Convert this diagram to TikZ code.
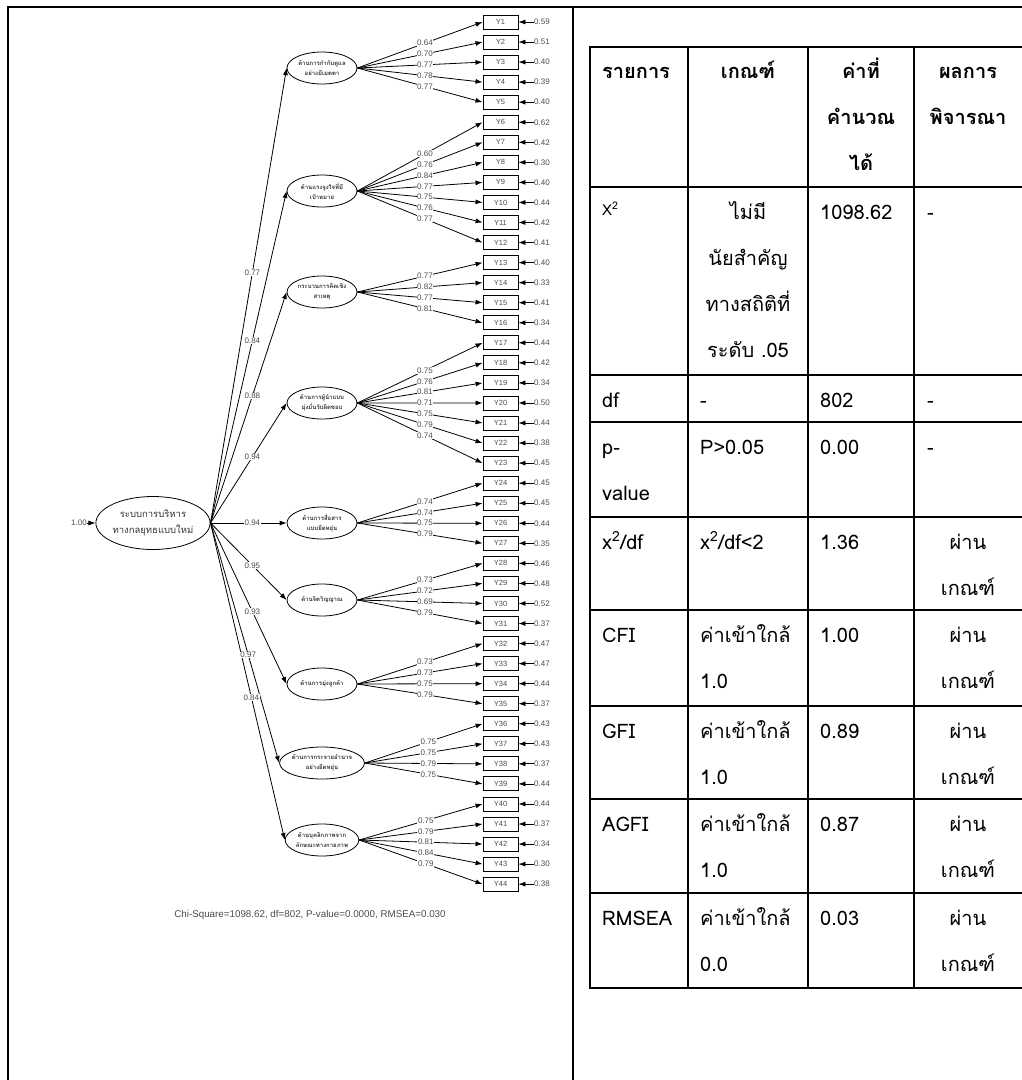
\documentclass[tikz,border=0pt]{standalone}
\usepackage{fontspec}
\setmainfont{Liberation Sans}
\newfontfamily\thai[Script=Thai]{Loma}
\usetikzlibrary{arrows.meta,shapes.geometric}
\begin{document}
\begin{tikzpicture}[x=1pt,y=-1pt,
  arr/.style={line width=0.8pt,-{Latex[length=7pt,width=5pt]}},
  ybox/.style={draw,line width=0.9pt,minimum width=35pt,minimum height=14pt,inner sep=0pt,font=\fontsize{7.5}{8}\selectfont,text=black!70},
  lab/.style={fill=white,inner sep=0.6pt,font=\fontsize{8}{8}\selectfont,text=black!70},
  errlab/.style={inner sep=0pt,font=\fontsize{8}{8}\selectfont,text=black!70},
  fac/.style={ellipse,draw,line width=0.8pt,minimum width=70pt,minimum height=32pt,inner sep=0pt,align=center,font=\thai\bfseries\fontsize{6}{10}\selectfont,text=black!80},
  bigfac/.style={ellipse,draw,line width=0.8pt,minimum width=102pt,minimum height=53pt,inner sep=0pt,align=center,font=\thai\fontsize{9.5}{16}\selectfont,text=black!80},
  frameline/.style={line width=2.2pt},
  tline/.style={line width=2pt},
  tl/.style={font=\thai\fontsize{20}{20}\selectfont,inner sep=0pt,anchor=base west},
  tm/.style={font=\thai\fontsize{20}{20}\selectfont,inner sep=0pt,anchor=base},
  th/.style={font=\thai\bfseries\fontsize{20}{20}\selectfont,inner sep=0pt,anchor=base},
]
\useasboundingbox (0,0) rectangle (1022,1080);
\fill[white] (0,0) rectangle (1022,1080);

% frame
\draw[frameline] (8,1082) -- (8,7) -- (1024,7);
\draw[frameline] (573,7) -- (573,1082);

% big factor
\node[bigfac] (big) at (153,523) {ระบบการบริหาร\\ทางกลยุทธแบบใหม่};
\node[errlab,anchor=east] (e0) at (87,523) {1.00};
\draw[arr] (e0.east) -- (big.west);

% first-order factors
\node[fac] (f1) at (322,68) {ด้านการกำกับดูแล\\อย่างมีเมตตา};
\node[fac] (f2) at (322,191) {ด้านแรงจูงใจที่มี\\เป้าหมาย};
\node[fac] (f3) at (322,292) {กระบวนการคิดเชิง\\สาเหตุ};
\node[fac] (f4) at (322,403) {ด้านการผู้นำแบบ\\มุ่งมั่นรับผิดชอบ};
\node[fac] (f5) at (322,523) {ด้านการสื่อสาร\\แบบยืดหยุ่น};
\node[fac] (f6) at (322,600) {ด้านจิตวิญญาณ};
\node[fac] (f7) at (322,684) {ด้านการมุ่งลูกค้า};
\node[fac] (f8) at (322,763) {ด้านการกระจายอำนาจ\\อย่างยืดหยุ่น};
\node[fac] (f9) at (322,840) {ด้านบุคลิกภาพจาก\\ลักษณะทางกายภาพ};

\def\second{1/0.77,2/0.84,3/0.88,4/0.94,5/0.94,6/0.95,7/0.93,8/0.97,9/0.84}
\foreach \g/\l in \second { \draw[arr] (big.east) -- (f\g.west); }
\foreach \g/\l in \second { \path (big.east) -- node[lab,pos=0.55] {\l} (f\g.west); }

\def\ind{1/1/0.64/0.59,2/1/0.70/0.51,3/1/0.77/0.40,4/1/0.78/0.39,5/1/0.77/0.40,
6/2/0.60/0.62,7/2/0.76/0.42,8/2/0.84/0.30,9/2/0.77/0.40,10/2/0.75/0.44,11/2/0.76/0.42,12/2/0.77/0.41,
13/3/0.77/0.40,14/3/0.82/0.33,15/3/0.77/0.41,16/3/0.81/0.34,
17/4/0.75/0.44,18/4/0.76/0.42,19/4/0.81/0.34,20/4/0.71/0.50,21/4/0.75/0.44,22/4/0.79/0.38,23/4/0.74/0.45,
24/5/0.74/0.45,25/5/0.74/0.45,26/5/0.75/0.44,27/5/0.79/0.35,
28/6/0.73/0.46,29/6/0.72/0.48,30/6/0.69/0.52,31/6/0.79/0.37,
32/7/0.73/0.47,33/7/0.73/0.47,34/7/0.75/0.44,35/7/0.79/0.37,
36/8/0.75/0.43,37/8/0.75/0.43,38/8/0.79/0.37,39/8/0.75/0.44,
40/9/0.75/0.44,41/9/0.79/0.37,42/9/0.81/0.34,43/9/0.84/0.30,44/9/0.79/0.38}

\foreach \i/\g/\l/\e in \ind {
  \node[ybox] (y\i) at (500.5,{22+(\i-1)*20.05}) {Y\i};
  \node[errlab,anchor=west] (e\i) at (534,{22+(\i-1)*20.05}) {\e};
  \draw[arr] (e\i.west) -- (y\i.east);
  \draw[arr] (f\g.east) -- (y\i.west);
}
\foreach \i/\g/\l/\e in \ind {
  \path (f\g.east) -- node[lab,pos=0.54] {\l} (y\i.west);
}

\node[font=\fontsize{9.8}{10}\selectfont,text=black!70] (chi) at (310,915) {Chi-Square=1098.62, df=802, P-value=0.0000, RMSEA=0.030};

% table
\foreach \yy in {47,187,375,422,517,610,706,799,893,988} { \draw[tline] (589,\yy) -- (1024,\yy); }
\foreach \xx in {590,688,808,914} { \draw[tline] (\xx,46) -- (\xx,989); }

% header
\node[th,anchor=base west] (h1) at (602,78) {รายการ};
\node[th] (h2) at (748,78) {เกณฑ์};
\node[th] (h3a) at (861,78) {ค่าที่};
\node[th] (h3b) at (861,124) {คำนวณ};
\node[th] (h3c) at (861,170) {ได้};
\node[th] (h4a) at (968,78) {ผลการ};
\node[th] (h4b) at (968,124) {พิจารณา};

% x2 row
\node[tl,font=\thai\fontsize{15}{15}\selectfont] (r1a) at (602,215) {X\textsuperscript{2}};
\node[tm] (r1b1) at (748,219) {ไม่มี};
\node[tm] (r1b2) at (748,265) {นัยสำคัญ};
\node[tm] (r1b3) at (748,311) {ทางสถิติที่};
\node[tm] (r1b4) at (748,357) {ระดับ .05};
\node[tl] (r1c) at (820,219) {1098.62};
\node[tl] (r1d) at (927,219) {-};

% df row
\node[tl] (r2a) at (602,407) {df};
\node[tl] (r2b) at (700,407) {-};
\node[tl] (r2c) at (820,407) {802};
\node[tl] (r2d) at (927,407) {-};

% p-value
\node[tl] (r3a1) at (602,454) {p-};
\node[tl] (r3a2) at (602,500) {value};
\node[tl] (r3b) at (700,454) {P>0.05};
\node[tl] (r3c) at (820,454) {0.00};
\node[tl] (r3d) at (927,454) {-};

% x2/df
\node[tl] (r4a) at (602,549) {x\textsuperscript{2}/df};
\node[tl] (r4b) at (700,549) {x\textsuperscript{2}/df<2};
\node[tl] (r4c) at (820,549) {1.36};
\node[tm] (r4d1) at (968,549) {ผ่าน};
\node[tm] (r4d2) at (968,595) {เกณฑ์};

% CFI
\node[tl] (r5a) at (602,642) {CFI};
\node[tl] (r5b1) at (700,642) {ค่าเข้าใกล้};
\node[tl] (r5b2) at (700,688) {1.0};
\node[tl] (r5c) at (820,642) {1.00};
\node[tm] (r5d1) at (968,642) {ผ่าน};
\node[tm] (r5d2) at (968,688) {เกณฑ์};

% GFI
\node[tl] (r6a) at (602,738) {GFI};
\node[tl] (r6b1) at (700,738) {ค่าเข้าใกล้};
\node[tl] (r6b2) at (700,784) {1.0};
\node[tl] (r6c) at (820,738) {0.89};
\node[tm] (r6d1) at (968,738) {ผ่าน};
\node[tm] (r6d2) at (968,784) {เกณฑ์};

% AGFI
\node[tl] (r7a) at (602,831) {AGFI};
\node[tl] (r7b1) at (700,831) {ค่าเข้าใกล้};
\node[tl] (r7b2) at (700,877) {1.0};
\node[tl] (r7c) at (820,831) {0.87};
\node[tm] (r7d1) at (968,831) {ผ่าน};
\node[tm] (r7d2) at (968,877) {เกณฑ์};

% RMSEA
\node[tl] (r8a) at (602,925) {RMSEA};
\node[tl] (r8b1) at (700,925) {ค่าเข้าใกล้};
\node[tl] (r8b2) at (700,971) {0.0};
\node[tl] (r8c) at (820,925) {0.03};
\node[tm] (r8d1) at (968,925) {ผ่าน};
\node[tm] (r8d2) at (968,971) {เกณฑ์};
\end{tikzpicture}
\end{document}
